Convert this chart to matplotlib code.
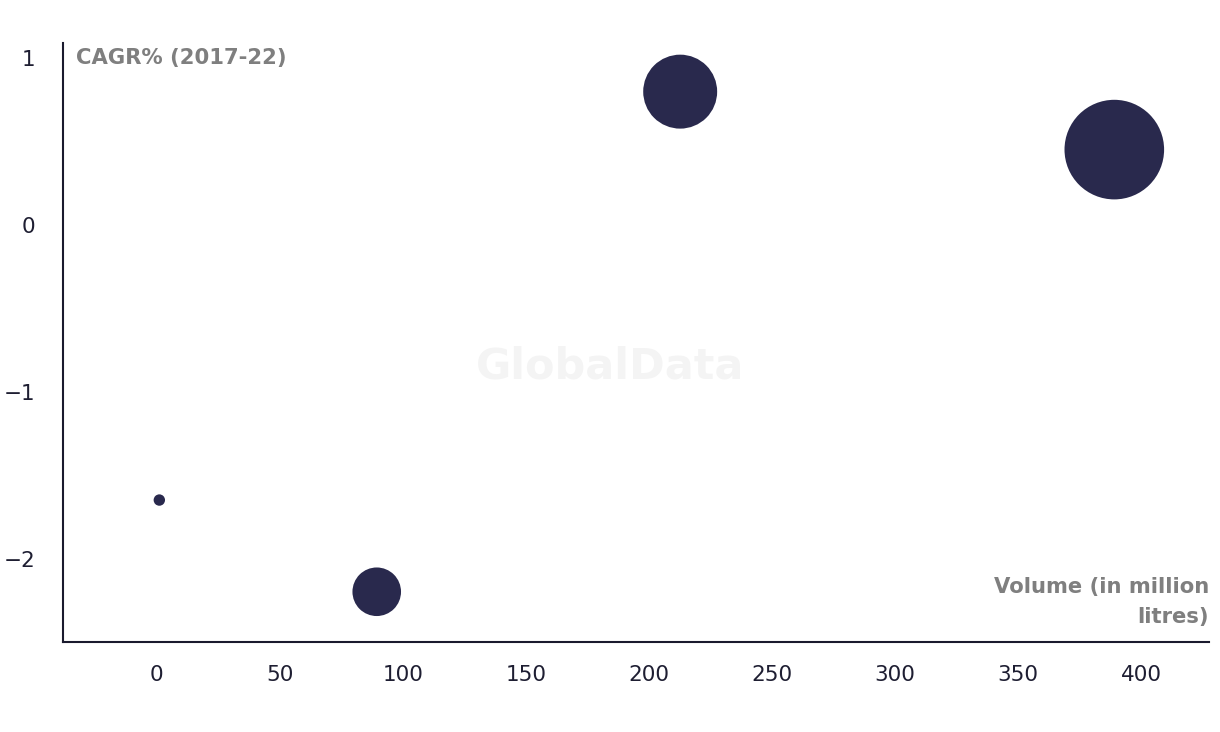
import numpy as np
import matplotlib
matplotlib.use("Agg")
import matplotlib.pyplot as plt

# ---- data ----
volume = [1.06, 89.4, 212.7, 389.1]          # million litres (x)
cagr = [-1.645, -2.194, 0.80, 0.453]          # CAGR % 2017-22 (y)
bubble_value = [1.06, 89.4, 212.7, 389.1]     # bubble size driver (volume)
x_ticks = [0, 50, 100, 150, 200, 250, 300, 350, 400]
y_ticks = [-2, -1, 0, 1]
y_title = "CAGR% (2017-22)"
x_title = "Volume (in million\nlitres)"
watermark = "GlobalData"

# ---- styling ----
DPI = 100
BUBBLE = "#29294d"
AXIS = "#1a1a2e"
TICK = "#1e1e32"
GREY = "#7f7f7f"
MIN_D_PX, MAX_D_PX = 11.4, 99.6

plt.rcParams['font.family'] = ['DejaVu Sans']

fig = plt.figure(figsize=(12.2, 7.32), dpi=DPI)
ax = fig.add_axes([63.3 / 1220, 1 - 641.7 / 732, (1209.3 - 63.3) / 1220, (641.7 - 42.7) / 732])

# bubble sizes: area linear in value between min and max diameter
z = np.array(bubble_value, dtype=float)
pos = (z - z.min()) / (z.max() - z.min())
d_px = np.sqrt(MIN_D_PX ** 2 + pos * (MAX_D_PX ** 2 - MIN_D_PX ** 2))
d_pt = d_px * 72.0 / DPI
ax.scatter(volume, cagr, s=d_pt ** 2, color=BUBBLE, linewidths=0, zorder=3)

ax.set_xlim(-37.96, 427.7)
ax.set_ylim(-2.493, 1.093)
ax.set_xticks(x_ticks)
ax.set_yticks(y_ticks)
ax.set_xticklabels([str(t) for t in x_ticks])
ax.set_yticklabels([str(t).replace('-', '\u2212') for t in y_ticks])
ax.tick_params(axis='both', length=0, labelsize=15.5, labelcolor=TICK)
ax.tick_params(axis='x', pad=17)
ax.tick_params(axis='y', pad=20)

for s in ['top', 'right']:
    ax.spines[s].set_visible(False)
for s in ['left', 'bottom']:
    ax.spines[s].set_color(AXIS)
    ax.spines[s].set_linewidth(1.5)

ax.text(0.011, 1 - (58.3 - 42.7) / 599, y_title, transform=ax.transAxes,
        ha='left', va='center', fontsize=15.2, fontweight='bold', color=GREY)
ax.text(1.0, 1 - (602 - 42.7) / 599, x_title, transform=ax.transAxes,
        ha='right', va='center', fontsize=15.2, fontweight='bold', color=GREY,
        linespacing=1.6)

fig.text(610 / 1220, 1 - 367 / 732, watermark, ha='center', va='center',
         fontsize=31, fontweight='bold', color='#f4f4f4', zorder=0)

fig.savefig("out.png", dpi=DPI)
